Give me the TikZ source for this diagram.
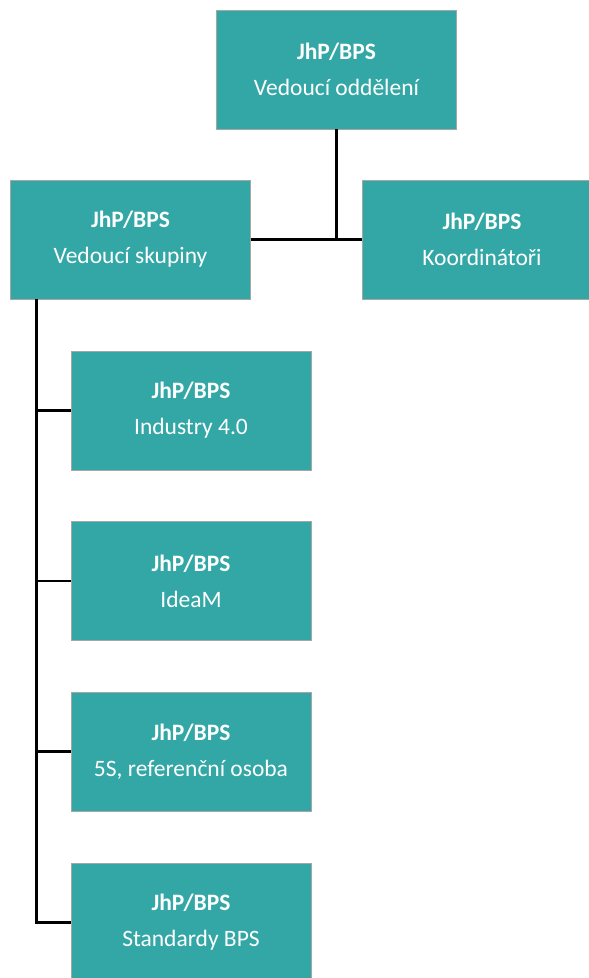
\documentclass[tikz,border=0pt]{standalone}
\usepackage{fontspec}
\setmainfont{Carlito}
\usepackage{tikz}
\definecolor{teal}{RGB}{51,167,166}

\begin{document}
\begin{tikzpicture}[x=1pt,y=-1pt]
\tikzstyle{every node}+=[inner sep=0pt]
\tikzstyle{unit}=[draw=black!35,line width=0.8pt,fill=teal,text=white,minimum width=240pt,minimum height=119pt,align=center,font=\fontsize{23.5}{36}\selectfont]
\tikzstyle{link}=[black,line width=2.8pt]
\useasboundingbox (0,0) rectangle (589,978);
\clip (0,0) rectangle (589,978);
\node [unit] (head) at (336.5,69.5) {\textbf{JhP/BPS}\\Vedoucí oddělení};
\node [unit] (lead) at (130.5,239.5) {\textbf{JhP/BPS}\\Vedoucí skupiny};
\node [unit] (coord) at (482,239.5) {\textbf{JhP/BPS}\\Koordinátoři};
\node [unit] (ind) at (191,410.5) {\textbf{JhP/BPS}\\Industry 4.0};
\node [unit] (idea) at (191,581) {\textbf{JhP/BPS}\\IdeaM};
\node [unit] (fives) at (191,751.5) {\textbf{JhP/BPS}\\5S, referenční osoba};
\node [unit] (std) at (191,922.5) {\textbf{JhP/BPS}\\Standardy BPS};
\coordinate (trunk) at ([xshift=26pt]lead.south west);
\draw [link] (lead.east) -- (coord.west);
\draw [link] (head.south) -- (head.south |- lead.east);
\draw [link] (trunk) |- (std.west);
\draw [link] (trunk |- ind.west) -- (ind.west);
\draw [link] (trunk |- idea.west) -- (idea.west);
\draw [link] (trunk |- fives.west) -- (fives.west);
\end{tikzpicture}
\end{document}
